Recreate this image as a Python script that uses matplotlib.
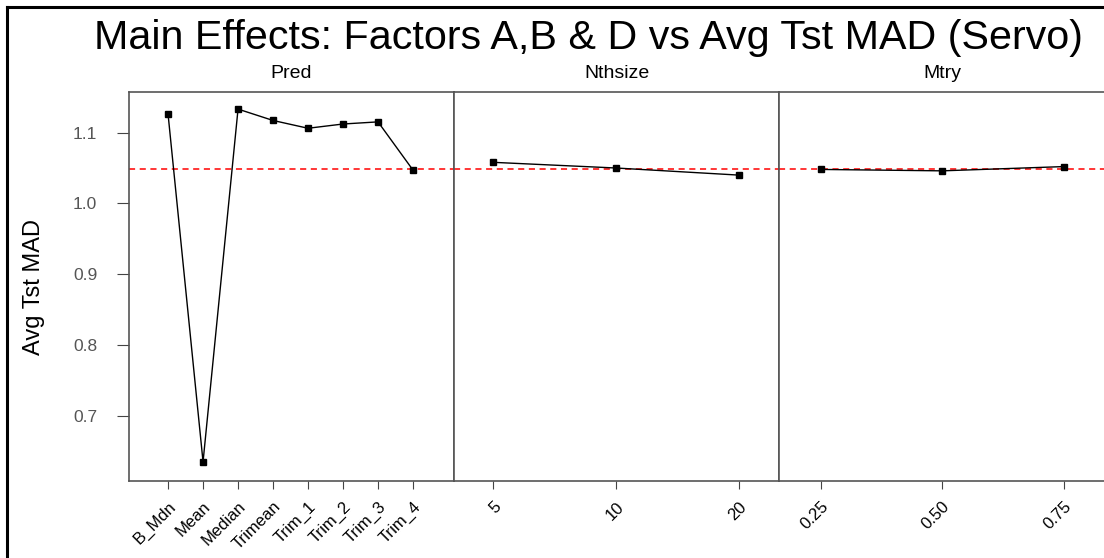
import matplotlib
matplotlib.use('Agg')
import matplotlib.pyplot as plt
import numpy as np
from matplotlib.lines import Line2D

# data
pred_labels = ['B_Mdn', 'Mean', 'Median', 'Trimean', 'Trim_1', 'Trim_2', 'Trim_3', 'Trim_4']
pred_vals = [1.126, 0.636, 1.133, 1.117, 1.106, 1.112, 1.115, 1.047]
nth_labels = ['5', '10', '20']
nth_vals = [1.058, 1.050, 1.040]
mtry_labels = ['0.25', '0.50', '0.75']
mtry_vals = [1.048, 1.046, 1.052]
panel_names = ['Pred', 'Nthsize', 'Mtry']
y_ticks = [0.7, 0.8, 0.9, 1.0, 1.1]

plt.rcParams['font.family'] = ['Liberation Sans', 'DejaVu Sans']

grand_mean = np.mean(pred_vals)

fig = plt.figure(figsize=(11.04, 5.58), dpi=100)
left, bottom, w, h = 0.1164, 0.138, 0.2948, 0.697

panels = [(pred_labels, pred_vals, (-1.13, 8.17)),
          (nth_labels, nth_vals, (-0.32, 2.33)),
          (mtry_labels, mtry_vals, (-0.34, 2.34))]

for i, (labels, vals, xl) in enumerate(panels):
    ax = fig.add_axes([left + i * w, bottom, w, h])
    x = np.arange(len(labels))
    ax.axhline(grand_mean, color='red', ls=(0, (4, 3)), lw=1.1, zorder=1)
    ax.plot(x, vals, color='black', lw=1, marker='s', ms=5, zorder=2)
    ax.set_xlim(*xl)
    ax.set_ylim(0.609, 1.157)
    ax.set_xticks(x)
    ax.set_xticklabels(labels, rotation=45, ha='right', rotation_mode='anchor', fontsize=12)
    ax.tick_params(axis='x', direction='out', length=6, color='#444444', pad=7)
    if i == 0:
        ax.set_yticks(y_ticks)
        ax.set_yticklabels(['%.1f' % v for v in y_ticks], fontsize=12.5, color='#555555')
        ax.tick_params(axis='y', direction='out', length=8.5, color='#444444', pad=14)
        ax.set_ylabel('Avg Tst MAD', fontsize=17, labelpad=20)
    else:
        ax.set_yticks([])
    for s in ax.spines.values():
        s.set_color('#555555')
        s.set_linewidth(1.2)
    ax.text(0.5, 1.049, panel_names[i], transform=ax.transAxes, ha='center', va='center', fontsize=14)

fig.text(0.533, 0.932, 'Main Effects: Factors A,B & D vs Avg Tst MAD (Servo)',
         ha='center', va='center', fontsize=29.7)

# frame lines from the original export
fig.add_artist(Line2D([0.0065, 0.0065], [0, 0.988], transform=fig.transFigure, color='black', lw=2.2))
fig.add_artist(Line2D([0.0065, 1], [0.988, 0.988], transform=fig.transFigure, color='black', lw=2.2))

fig.savefig('out.png', dpi=100)
